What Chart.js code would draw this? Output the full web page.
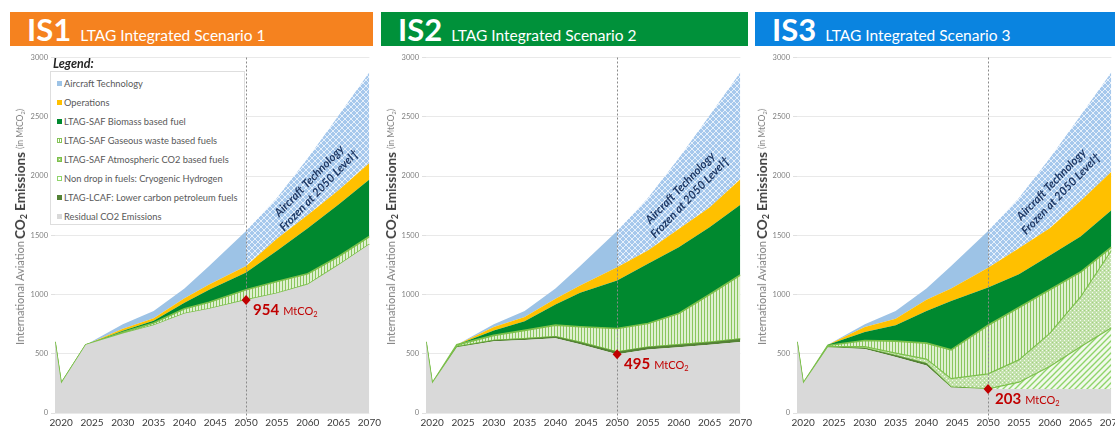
<!DOCTYPE html>
<html>
<head>
<meta charset="utf-8">
<script src="https://cdn.jsdelivr.net/npm/chart.js@4.4.1/dist/chart.umd.min.js"></script>
<style>
  body { margin: 0; background: #fff; font-family: Lato, 'Open Sans', sans-serif; }
  #wrap { position: relative; width: 1115px; height: 427px; overflow: hidden; }
  .head { position: absolute; top: 12px; height: 34px; color: #fff; display: flex; align-items: baseline; padding-left: 17px; box-sizing: border-box; white-space: nowrap; }
  .head b { font-size: 31px; line-height: 35px; font-weight: 700; }
  .head span { font-size: 15.5px; margin-left: 9px; }
  canvas { position: absolute; top: 50px; }
  .ytitle { position: absolute; top: 92px; height: 270px; width: 24px; writing-mode: vertical-rl; transform: rotate(180deg); text-align: center; white-space: nowrap; color: #808080; font-size: 11px; line-height: 24px; }
  .ytitle b { font-size: 13.5px; color: #404040; }
  .ytitle small { font-size: 8.5px; }
  .ytitle sub { font-size: 0.65em; }
  #legendTitle { position: absolute; left: 53px; top: 56px; font: italic 700 12.5px Lato, sans-serif; color: #262626; }
  #legend { position: absolute; left: 50px; top: 71px; width: 195px; height: 154px; background: #fff; border: 1px solid #dedede; box-sizing: border-box; padding-top: 5px; }
  #legend div { height: 19px; line-height: 13px; font-size: 9.3px; color: #595959; padding-left: 6px; white-space: nowrap; }
  #legend i { display: inline-block; width: 5px; height: 5px; margin-right: 2px; vertical-align: 1px; box-sizing: border-box; }
</style>
</head>
<body>
<div id="wrap">
  <div class="head" style="left:10px;width:363px;background:#f5821f"><b>IS1</b><span>LTAG Integrated Scenario 1</span></div>
  <div class="head" style="left:381px;width:367px;background:#00913a"><b>IS2</b><span>LTAG Integrated Scenario 2</span></div>
  <div class="head" style="left:755px;width:365px;background:#0a84e0"><b>IS3</b><span>LTAG Integrated Scenario 3</span></div>
  <canvas id="c1" width="385" height="377" style="left:0px"></canvas>
  <canvas id="c2" width="385" height="377" style="left:371px"></canvas>
  <canvas id="c3" width="385" height="377" style="left:742px"></canvas>
  <div id="legendTitle">Legend:</div>
  <div id="legend"></div>
</div>
<script>
// years of the data points and axis ticks
const years = [2019, 2020, 2024, 2030, 2035, 2040, 2044, 2050, 2055, 2060, 2065, 2070];
const tickYears = [2020, 2025, 2030, 2035, 2040, 2045, 2050, 2055, 2060, 2065, 2070];
const yTicks = [0, 500, 1000, 1500, 2000, 2500, 3000];
const markYear = 2050;

// stack order, bottom to top
const seriesNames = [
    'Residual CO2 Emissions',
    'LTAG-LCAF: Lower carbon petroleum fuels',
    'Non drop in fuels: Cryogenic Hydrogen',
    'LTAG-SAF Atmospheric CO2 based fuels',
    'LTAG-SAF Gaseous waste based fuels',
    'LTAG-SAF Biomass based fuel',
    'Operations',
    'Aircraft Technology'
];

// IS1 (MtCO2 per layer)
const is1Residual = [600, 250, 575, 670, 740, 840, 880, 954, 1010, 1085, 1250, 1425];
const is1Lcaf     = [0, 0, 0, 0, 0, 0, 0, 0, 0, 0, 0, 0];
const is1Hydrogen = [0, 0, 0, 0, 0, 0, 0, 0, 0, 0, 0, 0];
const is1Atmos    = [0, 0, 0, 0, 0, 0, 0, 0, 0, 0, 0, 0];
const is1Gaseous  = [0, 0, 0, 10, 20, 40, 55, 86, 100, 90, 70, 65];
const is1Biomass  = [0, 0, 0, 15, 18, 50, 105, 145, 260, 385, 440, 480];
const is1Ops      = [0, 0, 0, 17, 22, 38, 45, 55, 100, 110, 120, 140];
const is1Aircraft = [0, 0, 0, 38, 60, 82, 155, 295, 345, 480, 630, 765];

// IS2
const is2Residual = [600, 250, 555, 605, 615, 630, 580, 495, 535, 555, 575, 600];
const is2Lcaf     = [0, 0, 5, 8, 12, 15, 18, 22, 22, 22, 23, 25];
const is2Hydrogen = [0, 0, 0, 0, 0, 0, 0, 0, 0, 0, 0, 0];
const is2Atmos    = [0, 0, 0, 0, 0, 0, 0, 0, 0, 0, 0, 0];
const is2Gaseous  = [0, 0, 15, 42, 70, 97, 130, 196, 198, 262, 402, 540];
const is2Biomass  = [0, 0, 0, 42, 78, 174, 287, 406, 504, 560, 567, 592];
const is2Ops      = [0, 0, 0, 28, 35, 49, 60, 112, 112, 154, 168, 216];
const is2Aircraft = [0, 0, 0, 25, 50, 85, 165, 304, 444, 597, 775, 902];

// IS3
const is3Residual = [600, 250, 555, 540, 472, 400, 215, 203, 203, 203, 203, 203];
const is3Lcaf     = [0, 0, 3, 8, 15, 20, 5, 0, 0, 0, 0, 0];
const is3Hydrogen = [0, 0, 0, 0, 0, 0, 0, 0, 57, 190, 357, 517];
const is3Atmos    = [0, 0, 2, 12, 18, 35, 70, 127, 188, 279, 419, 651];
const is3Gaseous  = [0, 0, 10, 52, 102, 135, 243, 411, 442, 369, 210, 28];
const is3Biomass  = [0, 0, 5, 71, 133, 270, 412, 319, 280, 289, 301, 311];
const is3Ops      = [0, 0, 0, 42, 55, 95, 105, 165, 220, 230, 300, 325];
const is3Aircraft = [0, 0, 0, 25, 65, 95, 190, 310, 425, 590, 720, 840];

const GREEN_EDGE = '#7cc04b';

function makePattern(w, h, paint) {
    const c = document.createElement('canvas');
    c.width = w;
    c.height = h;
    const g = c.getContext('2d');
    paint(g);
    return g.createPattern(c, 'repeat');
}

// light blue diamond lattice for the frozen technology part
const pAircraft = makePattern(6, 6, g => {
    g.fillStyle = '#a6c8ec';
    g.fillRect(0, 0, 6, 6);
    g.fillStyle = '#e6f0fb';
    for (let i = 0; i < 6; i++) {
        g.fillRect(i, i, 1, 1);
        g.fillRect(i, 5 - i, 1, 1);
    }
});
const pGaseous = makePattern(3, 1, g => {
    g.fillStyle = '#dff0d1';
    g.fillRect(0, 0, 3, 1);
    g.fillStyle = '#8ac65e';
    g.fillRect(0, 0, 1, 1);
});
const pAtmos = makePattern(4, 4, g => {
    g.fillStyle = '#c3e1ac';
    g.fillRect(0, 0, 4, 4);
    g.fillStyle = '#f4faef';
    g.fillRect(0, 0, 1, 1);
    g.fillRect(2, 2, 1, 1);
    g.fillStyle = '#a2d27f';
    g.fillRect(2, 0, 1, 1);
});
const pHydrogen = makePattern(6, 6, g => {
    g.fillStyle = '#f1f9eb';
    g.fillRect(0, 0, 6, 6);
    g.strokeStyle = '#8fd46a';
    g.lineWidth = 1.4;
    g.beginPath();
    g.moveTo(-1, 7); g.lineTo(7, -1);
    g.moveTo(-4, 4); g.lineTo(4, -4);
    g.moveTo(2, 10); g.lineTo(10, 2);
    g.stroke();
});

const layerFill = ['#d9d9d9', '#548235', pHydrogen, pAtmos, pGaseous, '#00892f', '#ffc000', '#9dc3e6'];
const layerEdge = [null, null, GREEN_EDGE, GREEN_EDGE, GREEN_EDGE, null, null, null];

function buildDatasets(layers) {
    return layers.map((vals, i) => ({
        label: seriesNames[i],
        data: years.map((x, k) => ({ x: x, y: vals[k] })),
        backgroundColor: layerFill[i],
        borderColor: layerEdge[i] || 'rgba(0,0,0,0)',
        borderWidth: i === 4 ? 1.7 : (layerEdge[i] ? 1.2 : 1),
        fill: i === 0 ? 'origin' : '-1',
        pointRadius: 0,
        tension: 0,
        segment: i === 7 ? {
            backgroundColor: c => (c.p0.parsed.x >= markYear ? pAircraft : undefined)
        } : undefined
    }));
}

// dashed 2050 line, red diamond, value label, rotated note
const overlayPlugin = {
    id: 'overlay',
    afterDatasetsDraw(chart, args, opts) {
        const { ctx, chartArea: a, scales: { x, y } } = chart;
        const px = x.getPixelForValue(markYear);
        ctx.save();

        ctx.strokeStyle = '#8a8a8a';
        ctx.lineWidth = 1;
        ctx.setLineDash([2, 2]);
        ctx.beginPath();
        ctx.moveTo(Math.round(px) + 0.5, a.top);
        ctx.lineTo(Math.round(px) + 0.5, a.bottom + 8);
        ctx.stroke();
        ctx.setLineDash([]);

        const v = opts.residual[years.indexOf(markYear)];
        const py = y.getPixelForValue(v);
        ctx.fillStyle = '#c00000';
        ctx.beginPath();
        ctx.moveTo(px, py - 5);
        ctx.lineTo(px + 4.5, py);
        ctx.lineTo(px, py + 5);
        ctx.lineTo(px - 4.5, py);
        ctx.closePath();
        ctx.fill();

        const tx = px + 7;
        const ty = py + 15;
        ctx.textBaseline = 'alphabetic';
        ctx.font = 'bold 15px Lato';
        ctx.fillText(String(v), tx, ty);
        const w1 = ctx.measureText(String(v)).width;
        ctx.font = '11px Lato';
        ctx.fillText('MtCO', tx + w1 + 4, ty);
        const w2 = ctx.measureText('MtCO').width;
        ctx.font = '7.5px Lato';
        ctx.fillText('2', tx + w1 + 4 + w2, ty + 2);

        const nx = x.getPixelForValue(opts.noteX);
        const ny = y.getPixelForValue(opts.noteY);
        ctx.translate(nx, ny);
        ctx.rotate(-46 * Math.PI / 180);
        ctx.fillStyle = '#1f3864';
        ctx.font = 'italic bold 11.5px Lato';
        ctx.textAlign = 'center';
        ctx.textBaseline = 'middle';
        ctx.fillText('Aircraft Technology', 0, -6.5);
        ctx.fillText('Frozen at 2050 Level\u2020', 0, 7);
        ctx.restore();
    }
};

function makeChart(id, layers, noteY) {
    return new Chart(document.getElementById(id), {
        type: 'line',
        data: { datasets: buildDatasets(layers) },
        options: {
            responsive: false,
            animation: false,
            devicePixelRatio: 1,
            layout: { padding: { top: 6, right: 13, left: 0, bottom: 0 } },
            plugins: {
                legend: { display: false },
                tooltip: { enabled: false },
                overlay: { residual: layers[0], noteX: 2061, noteY: noteY }
            },
            scales: {
                x: {
                    type: 'linear',
                    min: 2019,
                    max: 2070,
                    afterBuildTicks: s => { s.ticks = tickYears.map(v => ({ value: v })); },
                    afterFit: s => { s.height = 14; },
                    grid: { display: false, drawTicks: false },
                    border: { display: false },
                    ticks: {
                        autoSkip: false,
                        maxRotation: 0,
                        padding: 4,
                        color: '#3a3a3a',
                        font: { family: 'Lato', size: 10 },
                        callback: v => String(v)
                    }
                },
                y: {
                    stacked: true,
                    min: 0,
                    max: 3000,
                    afterBuildTicks: s => { s.ticks = yTicks.map(v => ({ value: v })); },
                    afterFit: s => { s.width = 55; },
                    grid: { color: '#e9e9e9', tickLength: 4, tickColor: '#e0e0e0' },
                    border: { display: false },
                    ticks: {
                        padding: 3,
                        color: '#7f7f7f',
                        font: { family: 'Lato', size: 7.5 },
                        callback: v => String(v)
                    }
                }
            }
        },
        plugins: [overlayPlugin]
    });
}

makeChart('c1', [is1Residual, is1Lcaf, is1Hydrogen, is1Atmos, is1Gaseous, is1Biomass, is1Ops, is1Aircraft], 1920);
makeChart('c2', [is2Residual, is2Lcaf, is2Hydrogen, is2Atmos, is2Gaseous, is2Biomass, is2Ops, is2Aircraft], 1860);
makeChart('c3', [is3Residual, is3Lcaf, is3Hydrogen, is3Atmos, is3Gaseous, is3Biomass, is3Ops, is3Aircraft], 1890);

// y-axis titles
[0, 371, 742].forEach(left => {
    const t = document.createElement('div');
    t.className = 'ytitle';
    t.style.left = (left + 8) + 'px';
    t.innerHTML = 'International Aviation <b>CO<sub>2</sub> Emissions</b> <small>(in MtCO<sub>2</sub>)</small>';
    document.getElementById('wrap').appendChild(t);
});

// legend box (top to bottom = reverse stack order)
const swatchCss = [
    'background:#d9d9d9',
    'background:#548235',
    'background:#fff;border:1px solid #8fd46a',
    'background:radial-gradient(#fff 30%, #9dd175 40%);border:1px solid #7cbf4b',
    'background:linear-gradient(90deg,#fff 35%,#84c257 35% 65%,#fff 65%);border:1px solid #84c257',
    'background:#00892f',
    'background:#ffc000',
    'background:#9dc3e6'
];
const legendBox = document.getElementById('legend');
seriesNames.slice().reverse().forEach((name, k) => {
    const i = seriesNames.length - 1 - k;
    const row = document.createElement('div');
    row.innerHTML = '<i style="' + swatchCss[i] + '"></i>' + name;
    legendBox.appendChild(row);
});
</script>
</body>
</html>
